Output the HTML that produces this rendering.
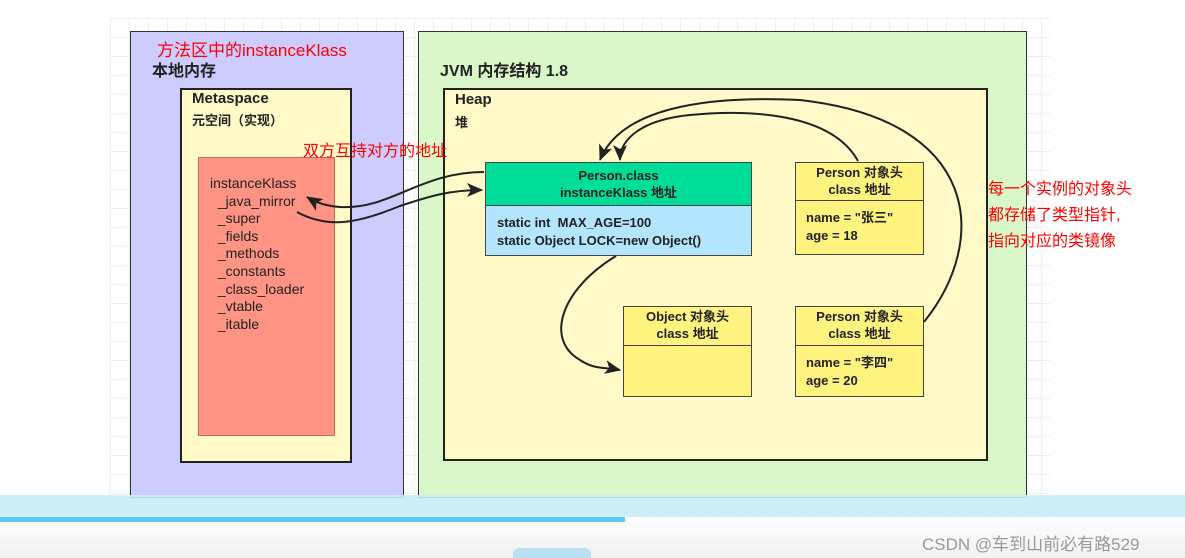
<!DOCTYPE html>
<html><head><meta charset="utf-8"><style>
body{margin:0;width:1185px;height:558px;overflow:hidden;background:#fff;position:relative;font-family:"Liberation Sans","Noto Sans CJK SC",sans-serif}
.a{position:absolute;box-sizing:border-box}
.t{position:absolute;white-space:nowrap}
.b{font-weight:bold;color:#222}
.r{color:#f00}
</style></head><body>
<div class="a" style="left:110px;top:18px;width:940px;height:500px;background-image:linear-gradient(#eee 1px,transparent 1px),linear-gradient(90deg,#eee 1px,transparent 1px);background-size:19px 19px"></div>
<div class="a" style="left:130px;top:31px;width:274px;height:467px;background:#ccccff;border:1px solid #333"></div>
<div class="a" style="left:418px;top:31px;width:609px;height:467px;background:#d9f7c8;border:1px solid #333"></div>
<div class="a" style="left:180px;top:88px;width:172px;height:375px;background:#fffac8;border:2px solid #222"></div>
<div class="a" style="left:443px;top:88px;width:545px;height:373px;background:#fffac8;border:2px solid #222"></div>
<div class="a" style="left:198px;top:157px;width:137px;height:279px;background:#ff9484;border:1px solid #c66"></div>
<div class="t r" style="left:157px;top:36px;font-size:17px">方法区中的instanceKlass</div>
<div class="t b" style="left:152px;top:57px;font-size:16px">本地内存</div>
<div class="t b" style="left:440px;top:57px;font-size:16px">JVM 内存结构 1.8</div>
<div class="t b" style="left:192px;top:90px;font-size:15px">Metaspace</div>
<div class="t b" style="left:192px;top:110px;font-size:13px">元空间（实现）</div>
<div class="t b" style="left:455px;top:91px;font-size:15px">Heap</div>
<div class="t b" style="left:455px;top:112px;font-size:13px">堆</div>
<div class="t r" style="left:303px;top:137px;font-size:16px">双方互持对方的地址</div>
<div class="t" style="left:210px;top:175px;font-size:14px;line-height:17.6px;color:#222">instanceKlass<br>&nbsp;&nbsp;_java_mirror<br>&nbsp;&nbsp;_super<br>&nbsp;&nbsp;_fields<br>&nbsp;&nbsp;_methods<br>&nbsp;&nbsp;_constants<br>&nbsp;&nbsp;_class_loader<br>&nbsp;&nbsp;_vtable<br>&nbsp;&nbsp;_itable</div>
<div class="a" style="left:485px;top:162px;width:267px;height:44px;background:#00dd99;border:1px solid #444;text-align:center;font-size:13px;font-weight:bold;line-height:17px;padding-top:4px;color:#222">Person.class<br>instanceKlass 地址</div>
<div class="a" style="left:485px;top:205px;width:267px;height:51px;background:#b3e5ff;border:1px solid #444;font-size:13px;font-weight:bold;line-height:18px;padding:8px 0 0 11px;color:#222">static int&nbsp; MAX_AGE=100<br>static Object LOCK=new Object()</div>
<div class="a" style="left:795px;top:162px;width:129px;height:39px;background:#fff380;border:1px solid #444;text-align:center;font-size:13px;font-weight:bold;line-height:17px;padding-top:1px;color:#222">Person 对象头<br>class 地址</div>
<div class="a" style="left:795px;top:200px;width:129px;height:55px;background:#fff380;border:1px solid #444;font-size:13px;font-weight:bold;line-height:18px;padding:8px 0 0 10px;color:#222">name = "张三"<br>age = 18</div>
<div class="a" style="left:623px;top:306px;width:129px;height:40px;background:#fff380;border:1px solid #444;text-align:center;font-size:13px;font-weight:bold;line-height:17px;padding-top:1px;color:#222">Object 对象头<br>class 地址</div>
<div class="a" style="left:623px;top:345px;width:129px;height:52px;background:#fff380;border:1px solid #444"></div>
<div class="a" style="left:795px;top:306px;width:129px;height:40px;background:#fff380;border:1px solid #444;text-align:center;font-size:13px;font-weight:bold;line-height:17px;padding-top:1px;color:#222">Person 对象头<br>class 地址</div>
<div class="a" style="left:795px;top:345px;width:129px;height:52px;background:#fff380;border:1px solid #444;font-size:13px;font-weight:bold;line-height:18px;padding:8px 0 0 10px;color:#222">name = "李四"<br>age = 20</div>
<div class="t r" style="left:988px;top:177px;font-size:16px;line-height:26px">每一个实例的对象头<br>都存储了类型指针,<br>指向对应的类镜像</div>
<svg class="a" style="left:0;top:0" width="1185" height="558">
<defs><marker id="m" markerWidth="16" markerHeight="14" refX="15" refY="7" orient="auto" markerUnits="userSpaceOnUse"><path d="M0,0L16,7L0,14L4,7z" fill="#222"/></marker></defs>
<g fill="none" stroke="#222" stroke-width="2">
<path d="M484,172 C420,172 390,210 340,207 C325,206 315,202 307,197" marker-end="url(#m)"/>
<path d="M297,212 C330,230 360,222 400,206 C430,196 450,190 482,190" marker-end="url(#m)"/>
<path d="M858,161 C830,110 740,110 690,115 C640,120 620,140 620,160" marker-end="url(#m)"/>
<path d="M924,322 C990,240 980,120 800,100 C700,95 620,110 600,160" marker-end="url(#m)"/>
<path d="M616,256 C560,290 545,340 580,360 C595,370 605,367 620,370" marker-end="url(#m)"/>
</g></svg>
<div class="a" style="left:0;top:495px;width:1185px;height:22px;background:#c9ecf7;opacity:.9"></div>
<div class="a" style="left:0;top:517px;width:625px;height:5px;background:#5ccbee"></div>
<div class="a" style="left:0;top:522px;width:1185px;height:36px;background:linear-gradient(#fcfcfc,#f2f2f2)"></div>
<div class="a" style="left:513px;top:548px;width:78px;height:10px;background:#b8e2f2;border-radius:6px 6px 0 0"></div>
<div class="t" style="left:922px;top:530px;font-size:17px;color:#999">CSDN @车到山前必有路529</div>
</body></html>
